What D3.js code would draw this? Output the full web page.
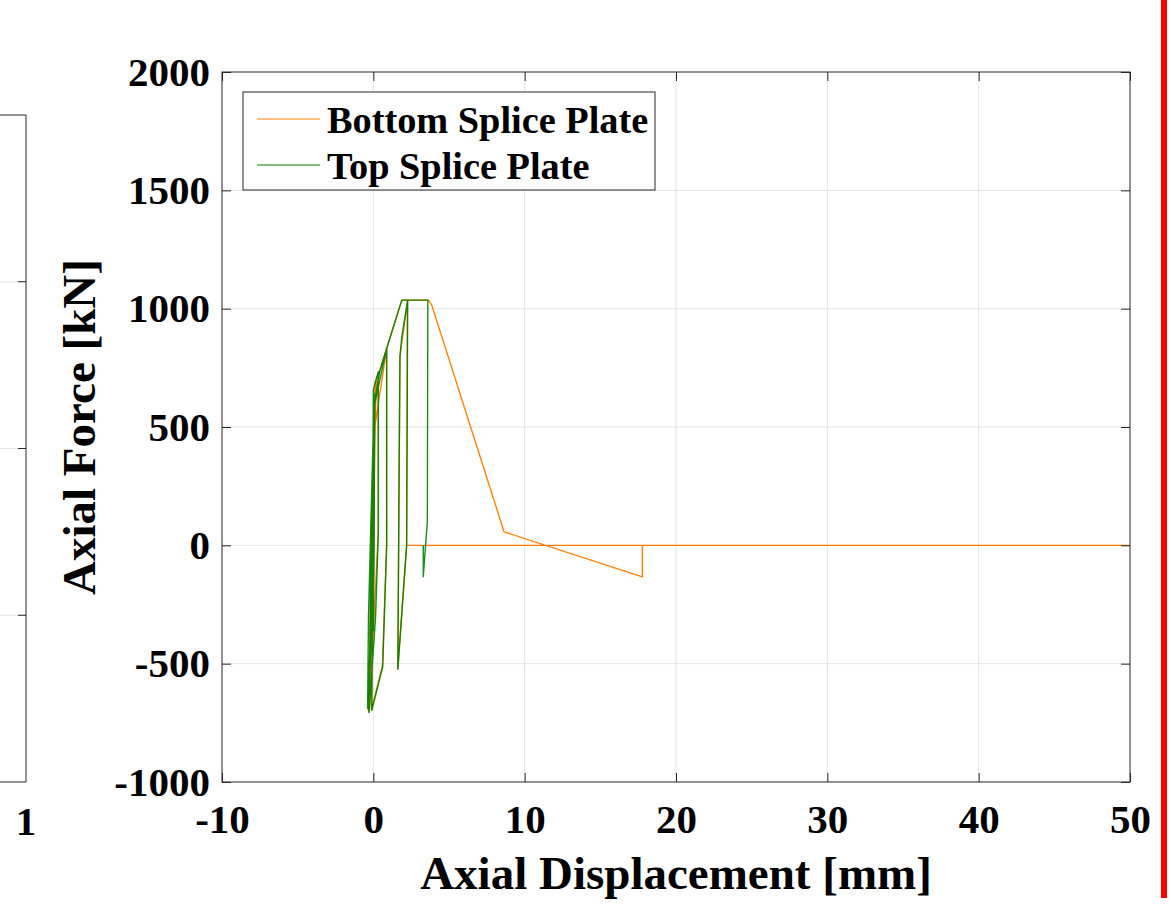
<!DOCTYPE html>
<html>
<head>
<meta charset="utf-8">
<script src="https://cdn.jsdelivr.net/npm/d3@7/dist/d3.min.js"></script>
<style>
  body { margin: 0; background: #fff; }
  svg { display: block; }
  text { font-family: "Liberation Serif", "Times New Roman", serif; font-weight: bold; fill: #000; }
</style>
</head>
<body>
<svg id="chart" width="1171" height="907"></svg>
<script>
// data
const xTicks = [-10, 0, 10, 20, 30, 40, 50];
const yTicks = [-1000, -500, 0, 500, 1000, 1500, 2000];
const seriesNames = ["Bottom Splice Plate", "Top Splice Plate"];
const seriesColors = ["#ff8000", "#008000"];

// bottom splice plate (orange)
const bottomDisp = [0, 0.06, 0.02, -0.02, 0.03, 0.08, 0.0, -0.32, -0.2, 0.0, 0.11, 0.33, 0.33, -0.25, -0.1, 0.2, 0.44, 0.88, 0.88, 0.6, -0.12, 0.1, 0.88, 1.88, 2.25, 2.2, 1.62, 1.76, 2.27, 3.64, 3.86, 8.64, 17.78, 17.78, 2.2, 50];
const bottomForce = [0, 480, 0, -330, 0, 500, -100, -700, -300, 400, 684, 733, 60, -690, 0, 700, 740, 832, 0, -510, -695, 500, 832, 1036, 1036, 0, -520, 800, 1036, 1036, 1015, 57, -133, 0, 0, 0];

// top splice plate (green)
const topDisp = [0, 0.08, 0.03, 0.0, 0.05, 0.1, 0.02, -0.3, -0.22, -0.05, 0.0, 0.11, 0.33, 0.33, 0.15, -0.28, -0.15, -0.05, 0.0, 0.05, -0.38, -0.32, -0.1, 0.05, 0.44, 0.88, 0.88, 0.62, -0.1, -0.05, 0.1, 0.88, 1.88, 2.27, 2.2, 1.62, 1.7, 1.76, 1.88, 2.27, 3.6, 3.57, 3.45, 3.3, 3.3];
const topForce = [0, 510, 0, -360, 0, 640, 0, -705, -400, 0, 656, 684, 733, 53, -300, -706, 0, 300, 520, 0, -690, -300, 250, 600, 740, 832, 0, -513, -697, 0, 600, 832, 1036, 1036, 0, -524, 300, 797, 881, 1036, 1036, 100, 0, -133, 0];

// neighbouring panel, only its right edge is visible
const sideTicks = [1, 2, 3];
const sideLabel = ["1"];

const svg = d3.select("#chart");
const frameColor = "#262626";
const gridColor = "#e3e3e3";
const fmt = d => String(d); // plain hyphen for negatives, as in the picture

// plot area
const plotLeft = 222, plotRight = 1130, plotTop = 72, plotBottom = 782;

const x = d3.scaleLinear().domain([-10, 50]).range([plotLeft, plotRight]);
const y = d3.scaleLinear().domain([-1000, 2000]).range([plotBottom, plotTop]);

// left partial panel
const sx = d3.scaleLinear().domain([0, 1]).range([-900, 26]);
const sy = d3.scaleLinear().domain([0, 4]).range([782, 115]);

const side = svg.append("g");
side.selectAll("line.grid")
  .data(sideTicks)
  .enter().append("line")
  .attr("class", "grid")
  .attr("x1", 0).attr("x2", sx(1))
  .attr("y1", d => sy(d)).attr("y2", d => sy(d))
  .attr("stroke", gridColor).attr("stroke-width", 1);
side.selectAll("line.tick")
  .data(sideTicks)
  .enter().append("line")
  .attr("class", "tick")
  .attr("x1", sx(1) - 8).attr("x2", sx(1))
  .attr("y1", d => sy(d)).attr("y2", d => sy(d))
  .attr("stroke", frameColor).attr("stroke-width", 1);
side.append("path")
  .attr("d", `M0,${sy(4)}H${sx(1)}V${sy(0)}H0`)
  .attr("fill", "none").attr("stroke", frameColor).attr("stroke-width", 1);
side.selectAll("text")
  .data(sideLabel)
  .enter().append("text")
  .attr("x", sx(1)).attr("y", 835)
  .attr("text-anchor", "middle")
  .attr("font-size", 41)
  .text(d => d);

// gridlines
const grid = svg.append("g");
grid.selectAll("line.gx")
  .data(xTicks.slice(1, -1))
  .enter().append("line")
  .attr("class", "gx")
  .attr("x1", d => x(d)).attr("x2", d => x(d))
  .attr("y1", plotTop).attr("y2", plotBottom)
  .attr("stroke", gridColor).attr("stroke-width", 1);
grid.selectAll("line.gy")
  .data(yTicks.slice(1, -1))
  .enter().append("line")
  .attr("class", "gy")
  .attr("x1", plotLeft).attr("x2", plotRight)
  .attr("y1", d => y(d)).attr("y2", d => y(d))
  .attr("stroke", gridColor).attr("stroke-width", 1);

// data lines
const line = d3.line().x(d => x(d[0])).y(d => y(d[1]));
const bottomPts = bottomDisp.map((d, i) => [d, bottomForce[i]]);
const topPts = topDisp.map((d, i) => [d, topForce[i]]);

svg.append("path")
  .datum(bottomPts)
  .attr("d", line)
  .attr("fill", "none")
  .attr("stroke", seriesColors[0])
  .attr("stroke-width", 1.4)
  .attr("stroke-linejoin", "round");

svg.append("path")
  .datum(topPts)
  .attr("d", line)
  .attr("fill", "none")
  .attr("stroke", seriesColors[1])
  .attr("stroke-width", 1.4)
  .attr("stroke-opacity", 0.9)
  .attr("stroke-linejoin", "round");

// axes with inward ticks on all four sides
const tickLen = 9;
const styleAxis = g => {
  g.select(".domain").remove();
  g.selectAll(".tick line").attr("stroke", frameColor);
  g.selectAll("text").attr("font-size", 41).attr("font-family", null);
};

svg.append("g")
  .attr("transform", `translate(0,${plotBottom})`)
  .call(d3.axisBottom(x).tickValues(xTicks).tickSize(-tickLen).tickPadding(22).tickFormat(fmt))
  .call(styleAxis)
  .call(g => g.selectAll("text").attr("fill", "#000"));

svg.append("g")
  .attr("transform", `translate(0,${plotTop})`)
  .call(d3.axisTop(x).tickValues(xTicks).tickSize(-tickLen).tickFormat(""))
  .call(styleAxis);

svg.append("g")
  .attr("transform", `translate(${plotLeft},0)`)
  .call(d3.axisLeft(y).tickValues(yTicks).tickSize(-tickLen).tickPadding(12).tickFormat(fmt))
  .call(styleAxis)
  .call(g => g.selectAll("text").attr("fill", "#000"));

svg.append("g")
  .attr("transform", `translate(${plotRight},0)`)
  .call(d3.axisRight(y).tickValues(yTicks).tickSize(-tickLen).tickFormat(""))
  .call(styleAxis);

// frame
svg.append("rect")
  .attr("x", plotLeft).attr("y", plotTop)
  .attr("width", plotRight - plotLeft).attr("height", plotBottom - plotTop)
  .attr("fill", "none").attr("stroke", frameColor).attr("stroke-width", 1);

// axis titles
svg.append("text")
  .attr("x", (plotLeft + plotRight) / 2).attr("y", 889)
  .attr("text-anchor", "middle")
  .attr("font-size", 47)
  .text("Axial Displacement [mm]");

svg.append("text")
  .attr("transform", `translate(95,${(plotTop + plotBottom) / 2}) rotate(-90)`)
  .attr("text-anchor", "middle")
  .attr("font-size", 47)
  .text("Axial Force [kN]");

// legend
const legend = svg.append("g");
legend.append("rect")
  .attr("x", 243).attr("y", 92)
  .attr("width", 412).attr("height", 98)
  .attr("fill", "#fff").attr("stroke", frameColor).attr("stroke-width", 1);
const rowY = [119, 165];
legend.selectAll("line")
  .data(seriesNames)
  .enter().append("line")
  .attr("x1", 257).attr("x2", 320)
  .attr("y1", (d, i) => rowY[i]).attr("y2", (d, i) => rowY[i])
  .attr("stroke", (d, i) => seriesColors[i]).attr("stroke-width", 1);
legend.selectAll("text")
  .data(seriesNames)
  .enter().append("text")
  .attr("x", 327)
  .attr("y", (d, i) => rowY[i] + 14)
  .attr("font-size", 38.3)
  .text(d => d);

// red marker line at the right edge
svg.append("rect")
  .attr("x", 1161).attr("y", 0)
  .attr("width", 6).attr("height", 898)
  .attr("fill", "#ff0000");
</script>
</body>
</html>
